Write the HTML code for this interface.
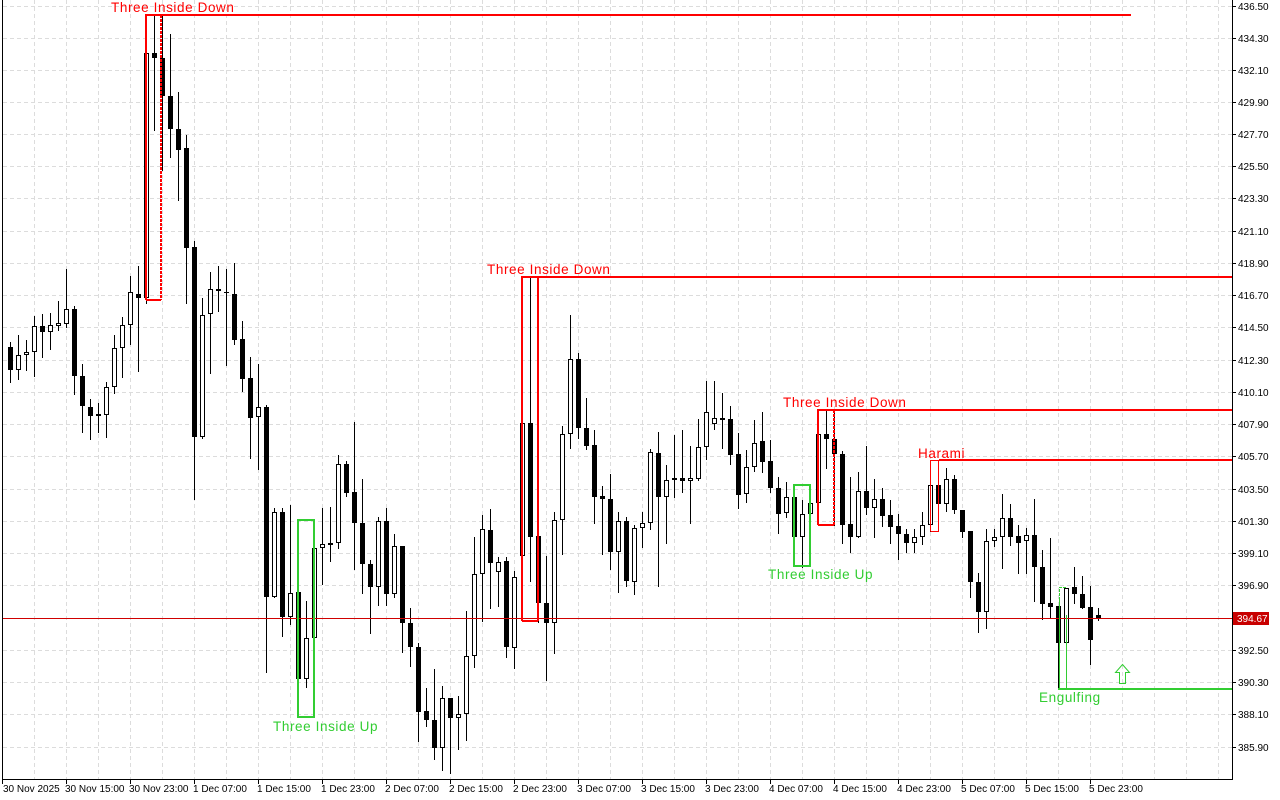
<!DOCTYPE html>
<html><head><meta charset="utf-8"><style>
html,body{margin:0;padding:0;background:#fff;}
svg{display:block;}
.ax{font-family:"Liberation Sans",sans-serif;font-size:10px;fill:#000;}
.pt{font-family:"Liberation Sans",sans-serif;font-size:13.5px;letter-spacing:0.6px;}
</style></head><body>
<svg id="s" width="1280" height="800" xmlns="http://www.w3.org/2000/svg" shape-rendering="crispEdges">
<rect width="1280" height="800" fill="#fff"/>
<g id="grid" stroke="#dcdcdc" stroke-dasharray="4,3" stroke-width="1"></g>
<g id="candles"></g>
<line x1="2" y1="618.5" x2="1232" y2="618.5" stroke="#d00000" stroke-width="1"/>
<g fill="none" stroke="#ff0000" stroke-width="2">
<polyline points="146,300 146,15 1131,15"/>
<line x1="146" y1="300" x2="161" y2="300"/>
<line x1="161" y1="15" x2="161" y2="300" stroke-dasharray="3,1"/>
<polyline points="522,621 522,277 1232,277"/>
<line x1="522" y1="621" x2="538" y2="621"/>
<line x1="538" y1="277" x2="538" y2="621"/>
<polyline points="818,525 818,410 1232,410"/>
<line x1="818" y1="525" x2="834" y2="525"/>
<line x1="834" y1="410" x2="834" y2="525" stroke-dasharray="3,1"/>
<line x1="939" y1="460" x2="1232" y2="460"/>
</g>
<g fill="none" stroke="#ff0000" stroke-width="1">
<polyline points="930.5,531 930.5,460.5 939,460.5"/>
<polyline points="930.5,531.5 938.5,531.5 938.5,461"/>
</g>
<g fill="none" stroke="#32cd32" stroke-width="2">
<rect x="298" y="520" width="16" height="197"/>
<rect x="794" y="485" width="16" height="81"/>
<line x1="1058" y1="689" x2="1232" y2="689"/>
</g>
<g fill="none" stroke="#32cd32" stroke-width="1">
<line x1="1059.5" y1="600" x2="1059.5" y2="689"/>
<polyline points="1059.5,600 1059.5,587.5 1067,587.5" stroke-dasharray="3,1"/>
<line x1="1066.5" y1="615" x2="1066.5" y2="689"/>
<path d="M1122.5,664.5 L1129.5,672.5 L1125.5,672.5 L1125.5,683.5 L1119.5,683.5 L1119.5,672.5 L1115.5,672.5 Z" shape-rendering="auto"/>
</g>
<g class="pt">
<text x="111" y="12" fill="#ff0000">Three Inside Down</text>
<text x="487" y="274" fill="#ff0000">Three Inside Down</text>
<text x="783" y="407" fill="#ff0000">Three Inside Down</text>
<text x="918" y="458" fill="#ff0000">Harami</text>
<text x="273" y="731" fill="#32cd32">Three Inside Up</text>
<text x="768" y="579" fill="#32cd32">Three Inside Up</text>
<text x="1039" y="702" fill="#32cd32">Engulfing</text>
</g>
<g stroke="#000" stroke-width="1" fill="none">
<line x1="2.5" y1="0" x2="2.5" y2="779"/>
<line x1="1232.5" y1="0" x2="1232.5" y2="779"/>
<line x1="2" y1="779.5" x2="1233" y2="779.5"/>
</g>
<g id="ticks" stroke="#000" stroke-width="1"></g>
<rect x="1233" y="612" width="36" height="13" fill="#c80000"/>
<g class="ax">
<text x="1238" y="10">436.50</text>
<text x="1238" y="42">434.30</text>
<text x="1238" y="74">432.10</text>
<text x="1238" y="106">429.90</text>
<text x="1238" y="138">427.70</text>
<text x="1238" y="170">425.50</text>
<text x="1238" y="202">423.30</text>
<text x="1238" y="235">421.10</text>
<text x="1238" y="267">418.90</text>
<text x="1238" y="299">416.70</text>
<text x="1238" y="331">414.50</text>
<text x="1238" y="364">412.30</text>
<text x="1238" y="396">410.10</text>
<text x="1238" y="428">407.90</text>
<text x="1238" y="460">405.70</text>
<text x="1238" y="493">403.50</text>
<text x="1238" y="525">401.30</text>
<text x="1238" y="557">399.10</text>
<text x="1238" y="589">396.90</text>
<text x="1237" y="622" fill="#fff">394.67</text>
<text x="1238" y="654">392.50</text>
<text x="1238" y="686">390.30</text>
<text x="1238" y="718">388.10</text>
<text x="1238" y="751">385.90</text>
<text x="3" y="792">30 Nov 2025</text>
<text x="65" y="792">30 Nov 15:00</text>
<text x="129" y="792">30 Nov 23:00</text>
<text x="193" y="792">1 Dec 07:00</text>
<text x="257" y="792">1 Dec 15:00</text>
<text x="321" y="792">1 Dec 23:00</text>
<text x="385" y="792">2 Dec 07:00</text>
<text x="449" y="792">2 Dec 15:00</text>
<text x="513" y="792">2 Dec 23:00</text>
<text x="577" y="792">3 Dec 07:00</text>
<text x="641" y="792">3 Dec 15:00</text>
<text x="705" y="792">3 Dec 23:00</text>
<text x="769" y="792">4 Dec 07:00</text>
<text x="833" y="792">4 Dec 15:00</text>
<text x="897" y="792">4 Dec 23:00</text>
<text x="961" y="792">5 Dec 07:00</text>
<text x="1025" y="792">5 Dec 15:00</text>
<text x="1089" y="792">5 Dec 23:00</text>
</g>
</svg>
<script>
var NS="http://www.w3.org/2000/svg";
function el(p,n,a){var e=document.createElementNS(NS,n);for(var k in a)e.setAttribute(k,a[k]);p.appendChild(e);return e;}
var g=document.getElementById("grid");
var ys=[6,38,70,102,134,166,198,231,263,295,327,360,392,424,456,489,521,553,585,618,650,682,714,747];
ys.forEach(function(y){el(g,"line",{x1:3,y1:y+0.5,x2:1232,y2:y+0.5});});
for(var x=34;x<1232;x+=32){el(g,"line",{x1:x+0.5,y1:0,x2:x+0.5,y2:779});}
var t=document.getElementById("ticks");
ys.forEach(function(y){el(t,"line",{x1:1232,y1:y+0.5,x2:1236,y2:y+0.5});});
for(var x=2;x<=1090;x+=64){el(t,"line",{x1:x+0.5,y1:779,x2:x+0.5,y2:784});}
var D="340,347,364,370,1|342,347,370,382,0|335,355,370,379,1|340,352,355,370,1|316,326,352,376,1|314,326,332,357,0|313,325,332,349,1|301,323,326,330,1|269,309,324,327,1|306,309,376,394,0|364,376,406,432,0|399,407,416,439,0|403,414,416,432,1|382,387,415,437,1|335,348,387,393,1|317,325,348,377,1|276,292,325,344,1|266,294,298,371,0|34,53,298,303,1|16,53,58,130,0|16,58,96,170,0|34,96,129,157,0|92,129,150,200,0|135,148,248,303,0|241,247,437,499,0|298,315,437,438,1|272,289,314,373,1|266,289,291,311,0|269,292,293,365,0|263,294,340,344,0|321,339,379,391,0|357,378,418,458,0|364,407,417,469,1|405,407,597,672,0|508,512,597,597,1|508,512,617,636,0|505,593,617,624,1|568,592,679,717,0|601,638,679,687,1|520,548,638,686,1|508,544,548,584,1|507,543,545,561,0|455,464,543,548,1|461,464,493,496,0|422,492,523,569,0|479,523,564,593,0|560,564,587,633,0|517,521,587,605,1|508,521,594,605,0|534,546,594,597,1|546,546,623,652,0|608,623,647,666,0|643,647,712,741,0|688,711,720,726,0|669,720,748,759,0|686,698,748,770,1|698,698,718,773,0|696,714,718,749,1|611,656,714,740,1|537,574,656,667,1|515,529,574,621,1|509,530,563,608,0|557,562,572,606,1|557,561,647,657,0|571,577,648,668,1|420,423,556,573,1|277,423,537,581,0|472,536,603,622,0|556,603,623,680,0|512,520,623,653,1|426,434,520,554,1|315,359,434,448,1|353,359,428,438,0|398,428,446,449,0|430,445,497,523,0|486,496,499,554,0|474,499,552,569,0|512,521,552,592,1|517,521,581,586,0|525,528,582,594,1|512,523,528,547,1|449,452,523,529,1|432,453,497,586,0|465,480,497,543,1|435,478,479,497,1|430,478,481,492,0|446,478,481,523,1|419,447,479,480,1|381,412,447,459,1|381,418,424,429,1|393,418,420,448,0|406,419,455,464,0|433,454,495,508,0|450,467,494,502,1|420,443,467,471,1|412,441,462,472,0|440,461,488,492,0|477,488,514,533,0|482,497,513,517,1|497,497,537,547,0|500,514,537,567,1|498,503,514,532,1|410,434,503,525,1|410,434,439,468,0|410,439,454,525,0|451,454,525,543,0|477,524,537,552,0|472,491,537,537,1|446,491,508,514,0|479,499,508,537,1|488,499,516,526,0|500,515,527,543,0|514,526,534,559,0|529,534,543,552,0|529,537,543,552,1|512,525,537,544,1|463,485,525,531,1|460,485,504,531,0|468,479,504,511,1|475,479,510,513,0|510,510,532,537,0|531,531,582,597,0|573,582,612,632,0|529,541,612,628,1|529,537,541,546,1|494,518,537,568,1|504,518,537,545,0|525,536,543,573,0|528,535,541,573,1|499,535,567,601,0|550,567,604,619,0|538,603,607,617,0|606,606,643,689,0|588,588,643,665,1|567,587,594,603,0|576,594,608,608,0|586,607,640,664,0|608,615,619,620,0";
var c=document.getElementById("candles");
D.split("|").forEach(function(s,i){
 var v=s.split(",").map(Number);var cx=2+8*i;
 if(cx<3)return;
 el(c,"line",{x1:cx+0.5,y1:v[0],x2:cx+0.5,y2:v[3]+1,stroke:"#000","stroke-width":1});
 var h=Math.max(1,v[2]-v[1]);
 if(v[4]==1){el(c,"rect",{x:cx-1.5,y:v[1]+0.5,width:4,height:Math.max(1,h-1),fill:"#fff",stroke:"#000","stroke-width":1});}
 else{el(c,"rect",{x:cx-2,y:v[1],width:5,height:h,fill:"#000"});}
});
</script>
</body></html>
